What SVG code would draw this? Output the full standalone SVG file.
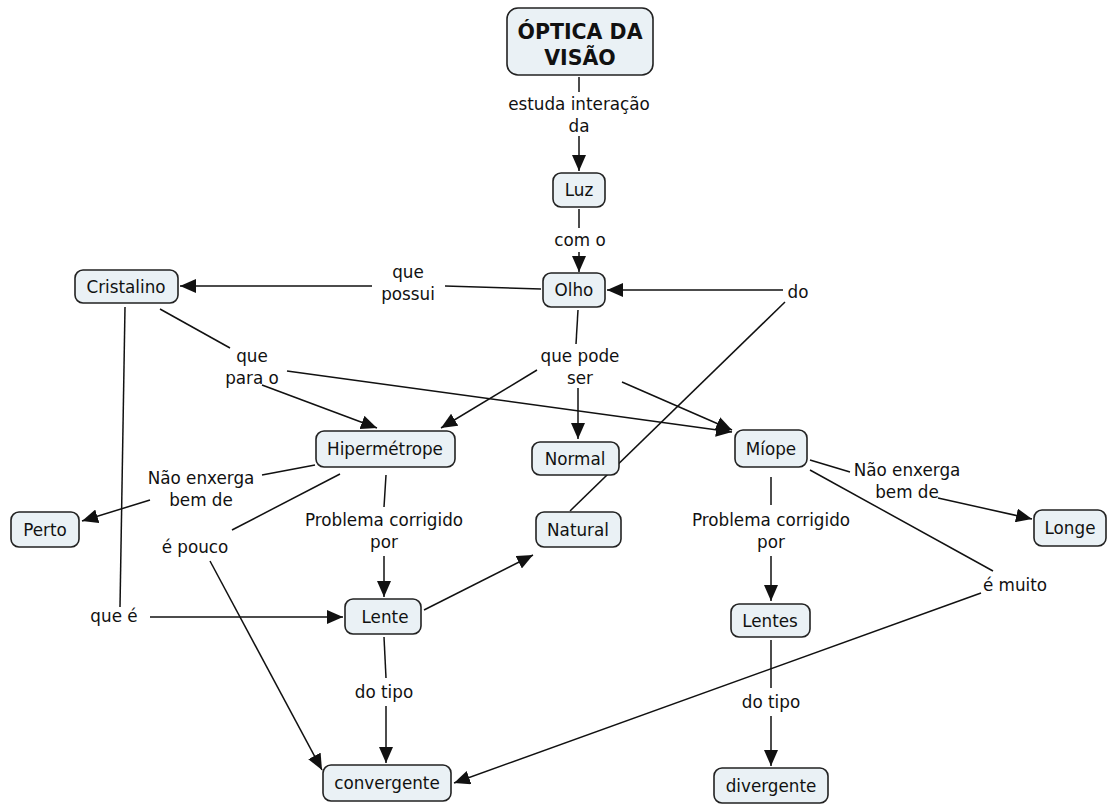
<svg xmlns="http://www.w3.org/2000/svg" width="1107" height="805" viewBox="0 0 1107 805">
<defs>
<style>
.n rect{fill:#eaf1f5;stroke:#222;stroke-width:1.6}
text{font-family:"DejaVu Sans",Verdana,sans-serif;font-size:16.8px;fill:#111;text-anchor:middle}
.b{font-weight:bold;font-size:20.5px}
.c line{stroke:#111;stroke-width:1.5}
.a{marker-end:url(#ah)}
</style>
<marker id="ah" viewBox="0 0 16 14" refX="16" refY="7" markerWidth="16" markerHeight="14" markerUnits="userSpaceOnUse" orient="auto">
<path d="M0,0 L16,7 L0,14 Z" fill="#111"/>
</marker>
</defs>
<rect width="1107" height="805" fill="#fff"/>
<g class="c">
<line x1="579" y1="77" x2="579" y2="92"/>
<line class="a" x1="579" y1="136" x2="579" y2="171"/>
<line x1="579" y1="209" x2="579" y2="228"/>
<line class="a" x1="579" y1="252" x2="579" y2="272"/>
<line x1="541" y1="289" x2="445" y2="286"/>
<line class="a" x1="372" y1="286" x2="180" y2="286"/>
<line x1="570" y1="511" x2="785" y2="302"/>
<line class="a" x1="783" y1="290" x2="607" y2="290"/>
<line x1="578" y1="310" x2="576" y2="344"/>
<line class="a" x1="537" y1="370" x2="441" y2="428"/>
<line class="a" x1="578" y1="388" x2="578" y2="439"/>
<line class="a" x1="622" y1="382" x2="732" y2="430"/>
<line x1="160" y1="309" x2="230" y2="348"/>
<line class="a" x1="262" y1="385" x2="377" y2="428"/>
<line class="a" x1="287" y1="371" x2="732" y2="432"/>
<line x1="125" y1="307" x2="120" y2="607"/>
<line class="a" x1="150" y1="617" x2="343" y2="617"/>
<line x1="315" y1="465" x2="262" y2="475"/>
<line class="a" x1="150" y1="500" x2="82" y2="521"/>
<line x1="340" y1="474" x2="232" y2="530"/>
<line class="a" x1="210" y1="561" x2="322" y2="770"/>
<line x1="386" y1="475" x2="384" y2="507"/>
<line class="a" x1="384" y1="556" x2="384" y2="597"/>
<line class="a" x1="424" y1="610" x2="533" y2="555"/>
<line x1="384" y1="637" x2="386" y2="678"/>
<line class="a" x1="386" y1="706" x2="386" y2="763"/>
<line x1="810" y1="460" x2="850" y2="472"/>
<line class="a" x1="938" y1="498" x2="1032" y2="519"/>
<line x1="771" y1="477" x2="771" y2="505"/>
<line class="a" x1="771" y1="556" x2="771" y2="601"/>
<line x1="810" y1="470" x2="993" y2="571"/>
<line class="a" x1="981" y1="593" x2="454" y2="783"/>
<line x1="771" y1="640" x2="771" y2="688"/>
<line class="a" x1="771" y1="716" x2="771" y2="766"/>
</g>
<g id="optica" class="n"><rect x="507" y="8" width="146" height="67" rx="11"/><text class="b" x="580" y="39">ÓPTICA DA</text><text class="b" x="580" y="65">VISÃO</text></g>
<g id="luz" class="n"><rect x="553" y="173" width="52" height="34" rx="8"/><text x="579" y="196">Luz</text></g>
<g id="olho" class="n"><rect x="543" y="273" width="62" height="34" rx="8"/><text x="574" y="296">Olho</text></g>
<g id="cristalino" class="n"><rect x="75" y="270" width="103" height="33" rx="8"/><text x="126" y="293">Cristalino</text></g>
<g id="hipermetrope" class="n"><rect x="316" y="431" width="139" height="36" rx="8"/><text x="385" y="455">Hipermétrope</text></g>
<g id="normal" class="n"><rect x="532" y="442" width="87" height="33" rx="8"/><text x="575" y="465">Normal</text></g>
<g id="miope" class="n"><rect x="735" y="430" width="72" height="37" rx="8"/><text x="771" y="455">Míope</text></g>
<g id="perto" class="n"><rect x="11" y="512" width="68" height="35" rx="8"/><text x="45" y="536">Perto</text></g>
<g id="natural" class="n"><rect x="536" y="512" width="85" height="35" rx="8"/><text x="578" y="536">Natural</text></g>
<g id="longe" class="n"><rect x="1034" y="510" width="72" height="36" rx="8"/><text x="1070" y="534">Longe</text></g>
<g id="lente" class="n"><rect x="345" y="599" width="76" height="35" rx="8"/><text x="385" y="623">Lente</text></g>
<g id="lentes" class="n"><rect x="731" y="604" width="79" height="33" rx="8"/><text x="770" y="627">Lentes</text></g>
<g id="convergente" class="n"><rect x="323" y="765" width="128" height="36" rx="8"/><text x="387" y="789">convergente</text></g>
<g id="divergente" class="n"><rect x="714" y="768" width="114" height="35" rx="8"/><text x="771" y="792">divergente</text></g>
<g id="labels">
<text x="579" y="110">estuda interação</text><text x="579" y="132">da</text>
<text x="580" y="246">com o</text>
<text x="408" y="278">que</text><text x="408" y="300">possui</text>
<text x="798" y="298">do</text>
<text x="580" y="362">que pode</text><text x="580" y="384">ser</text>
<text x="252" y="362">que</text><text x="252" y="384">para o</text>
<text x="201" y="484">Não enxerga</text><text x="201" y="506">bem de</text>
<text x="195" y="553">é pouco</text>
<text x="384" y="526">Problema corrigido</text><text x="384" y="548">por</text>
<text x="907" y="476">Não enxerga</text><text x="907" y="498">bem de</text>
<text x="771" y="526">Problema corrigido</text><text x="771" y="548">por</text>
<text x="1015" y="591">é muito</text>
<text x="114" y="622">que é</text>
<text x="384" y="698">do tipo</text>
<text x="771" y="708">do tipo</text>
</g>
</svg>
